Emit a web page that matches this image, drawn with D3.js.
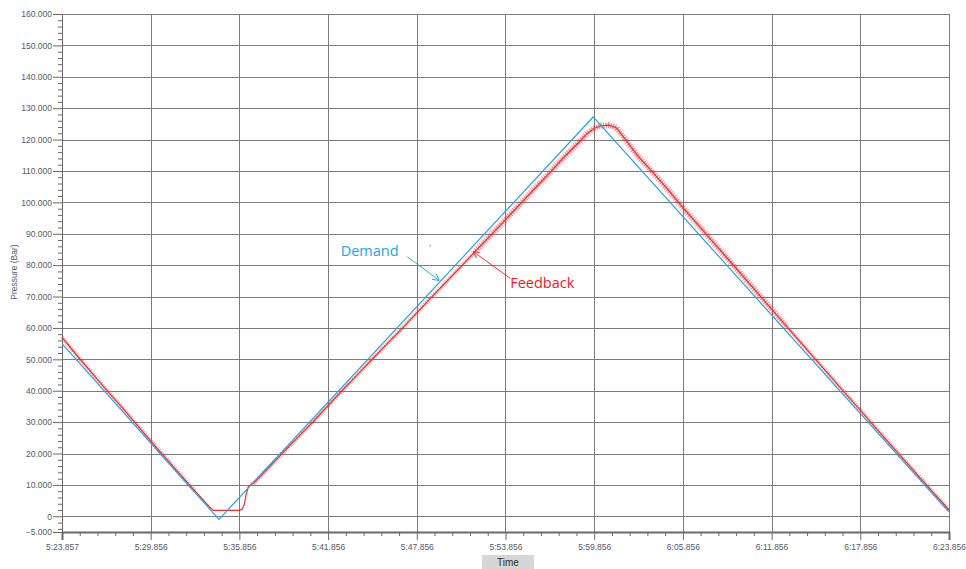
<!DOCTYPE html>
<html>
<head>
<meta charset="utf-8">
<script src="https://cdn.jsdelivr.net/npm/d3@7/dist/d3.min.js"></script>
<style>
body { margin: 0; background: #fff; }
svg { display: block; font-family: "Liberation Sans", Arial, sans-serif; }
</style>
</head>
<body>
<svg width="966" height="569"></svg>
<script>
// seconds elapsed since 5:23.857
const tickSec = [0, 5.999, 11.999, 17.999, 23.999, 29.999, 35.999, 41.999, 47.999, 53.999, 59.999];
const tickLabels = ["5:23.857", "5:29.856", "5:35.856", "5:41.856", "5:47.856", "5:53.856",
	"5:59.856", "6:05.856", "6:11.856", "6:17.856", "6:23.856"];
const yTicks = [-5, 0, 10, 20, 30, 40, 50, 60, 70, 80, 90, 100, 110, 120, 130, 140, 150, 160];

const demandSec = [0, 10.62, 35.93, 59.999];
const demandVal = [55, -1, 127.2, 1.4];

const feedbackSec = [0, 1, 2, 3, 4, 5, 6, 7, 8, 9, 10, 10.24, 12.0, 12.2, 12.35, 12.45, 12.6, 12.8,
	13, 14, 15, 16, 17, 18, 19, 20, 21, 22, 23, 24, 25, 26, 27, 28, 29, 30, 31, 32, 33, 34, 35,
	35.5, 36, 36.5, 37, 37.5, 38, 39, 40, 41, 42, 43, 44, 45, 46, 47, 48, 49, 50, 51, 52, 53, 54,
	55, 56, 57, 58, 59, 59.999];
const feedbackVal = [57.0, 51.3, 45.8, 40.3, 35.0, 29.5, 24.0, 18.6, 13.3, 8.0, 2.9, 1.9, 1.9, 2.3, 4.1, 6.8, 9.4, 10.2,
	10.7, 15.6, 20.5, 25.4, 30.2, 35.3, 40.3, 45.2, 50.1, 55.0, 59.8, 64.8, 69.8, 74.7, 79.6, 84.6, 89.5, 94.5, 99.5, 104.5, 109.5, 114.6, 119.3,
	121.8, 123.6, 124.4, 124.6, 123.8, 120.7, 114.5, 109.4, 104.0, 98.3, 93.0, 87.6, 82.2, 76.8, 71.4, 66.0, 60.6, 55.2, 49.8, 44.5, 39.1, 33.8,
	28.4, 23.1, 17.8, 12.5, 7.2, 2.0];

// annotations, in data units
const demandNote = {text: "Demand", sec: 18.85, val: 82.8, from: [23.35, 82.7], to: [25.53, 75.1], dot: [24.9, 86.2]};
const feedbackNote = {text: "Feedback", sec: 30.32, val: 72.8, from: [30.32, 75.8], to: [27.82, 84.3]};

var svg = d3.select("svg");

const x = d3.scaleLinear().domain([0, 59.999]).range([62, 949]);
const y = d3.scaleLinear().domain([-5, 160]).range([532, 14]);

const blue = "#25a2e2";
const red = "#ec2a30";

// grid
const grid = svg.append("g").attr("stroke", "#7c7c7c").attr("stroke-width", 1).attr("shape-rendering", "crispEdges");
grid.selectAll("line.h")
	.data(yTicks.filter(d => d > -5))
	.enter().append("line")
	.attr("x1", 62).attr("x2", 949)
	.attr("y1", d => Math.round(y(d)) + 0.5).attr("y2", d => Math.round(y(d)) + 0.5);
grid.selectAll("line.v")
	.data(tickSec.slice(1))
	.enter().append("line")
	.attr("y1", y(160)).attr("y2", y(-5))
	.attr("x1", d => Math.round(x(d)) + 0.5).attr("x2", d => Math.round(x(d)) + 0.5);

// y axis
var minorY = d3.range(-4, 160, 2).filter(d => d % 10 != 0);
var yAxis = svg.append("g").attr("transform", "translate(62,0)")
	.call(d3.axisLeft(y).tickValues(yTicks).tickSize(9).tickPadding(1)
		.tickFormat(d => d == 0 ? "0" : d3.format(".3f")(d)));
svg.append("g").attr("transform", "translate(62,0)")
	.call(d3.axisLeft(y).tickValues(minorY).tickSize(4).tickFormat(""))
	.select(".domain").remove();

// x axis
var minorX = [];
tickSec.slice(0, -1).forEach((d, i) => {
	for (let k = 1; k < 5; k++) minorX.push(d + (tickSec[i + 1] - d) * k / 5);
});
var xAxis = svg.append("g").attr("transform", "translate(0,532)")
	.call(d3.axisBottom(x).tickValues(tickSec).tickSize(8).tickPadding(4)
		.tickFormat((d, i) => tickLabels[i]));
svg.append("g").attr("transform", "translate(0,532)")
	.call(d3.axisBottom(x).tickValues(minorX).tickSize(4).tickFormat(""))
	.select(".domain").remove();

svg.selectAll(".tick line").attr("stroke", "#6a6a6a");
svg.selectAll(".domain").attr("stroke", "#6a6a6a");
xAxis.select(".domain").attr("stroke-width", 2);
svg.selectAll(".tick text").attr("fill", "#58586a").style("font-size", "8.5px");

// axis titles
svg.append("text")
	.attr("transform", "translate(17,272) rotate(-90)")
	.attr("text-anchor", "middle")
	.attr("fill", "#58586a")
	.style("font-size", "8.5px")
	.text("Pressure (Bar)");

svg.append("rect").attr("x", 482).attr("y", 555).attr("width", 52).attr("height", 14).attr("fill", "#d6d6d6");
svg.append("text")
	.attr("x", 508).attr("y", 565.5)
	.attr("text-anchor", "middle")
	.attr("fill", "#2a2a2a")
	.style("font-size", "10px")
	.text("Time");

// series
var line = d3.line().x(d => x(d[0])).y(d => y(d[1]));
var demand = demandSec.map((d, i) => [d, demandVal[i]]);
var feedback = feedbackSec.map((d, i) => [d, feedbackVal[i]]);

// feedback noise band (not on the flat part near zero), wider round the peak
function band(test, width, opacity) {
	svg.append("path")
		.attr("d", d3.line().x(d => x(d[0])).y(d => y(d[1])).defined(test)(feedback))
		.attr("fill", "none")
		.attr("stroke", red)
		.attr("stroke-opacity", opacity)
		.attr("stroke-width", width)
		.attr("stroke-dasharray", "1,1.4");
}
band(d => d[0] < 10 || d[0] > 12.7, 4.5, 0.5);
band(d => d[0] > 27 && d[0] < 50, 7, 0.35);

svg.append("path")
	.attr("d", line(feedback))
	.attr("fill", "none")
	.attr("stroke", red)
	.attr("stroke-width", 1.2);
svg.append("path")
	.attr("d", line(demand))
	.attr("fill", "none")
	.attr("stroke", blue)
	.attr("stroke-width", 1.2);

// annotations
function arrowHead(id, color) {
	svg.append("defs").append("marker")
		.attr("id", id)
		.attr("viewBox", "0 0 10 10")
		.attr("refX", 10).attr("refY", 5)
		.attr("markerWidth", 7).attr("markerHeight", 7)
		.attr("markerUnits", "userSpaceOnUse")
		.attr("orient", "auto")
		.append("path")
		.attr("d", "M0,0L10,5L0,10")
		.attr("fill", "none")
		.attr("stroke", color)
		.attr("stroke-width", 1.3);
}
arrowHead("arrowBlue", blue);
arrowHead("arrowRed", "#f0262c");

function note(n, color, marker) {
	svg.append("text")
		.attr("x", x(n.sec)).attr("y", y(n.val))
		.attr("fill", color)
		.style("font-family", "'Open Sans', sans-serif")
		.style("font-size", "14.5px")
		.text(n.text);
	svg.append("line")
		.attr("x1", x(n.from[0])).attr("y1", y(n.from[1]))
		.attr("x2", x(n.to[0])).attr("y2", y(n.to[1]))
		.attr("stroke", color)
		.attr("stroke-width", 0.9)
		.attr("marker-end", "url(#" + marker + ")");
}
note(demandNote, "#1ea4ea", "arrowBlue");
note(feedbackNote, "#f5141c", "arrowRed");

svg.append("circle")
	.attr("cx", x(demandNote.dot[0])).attr("cy", y(demandNote.dot[1]))
	.attr("r", 0.8).attr("fill", blue);
</script>
</body>
</html>
